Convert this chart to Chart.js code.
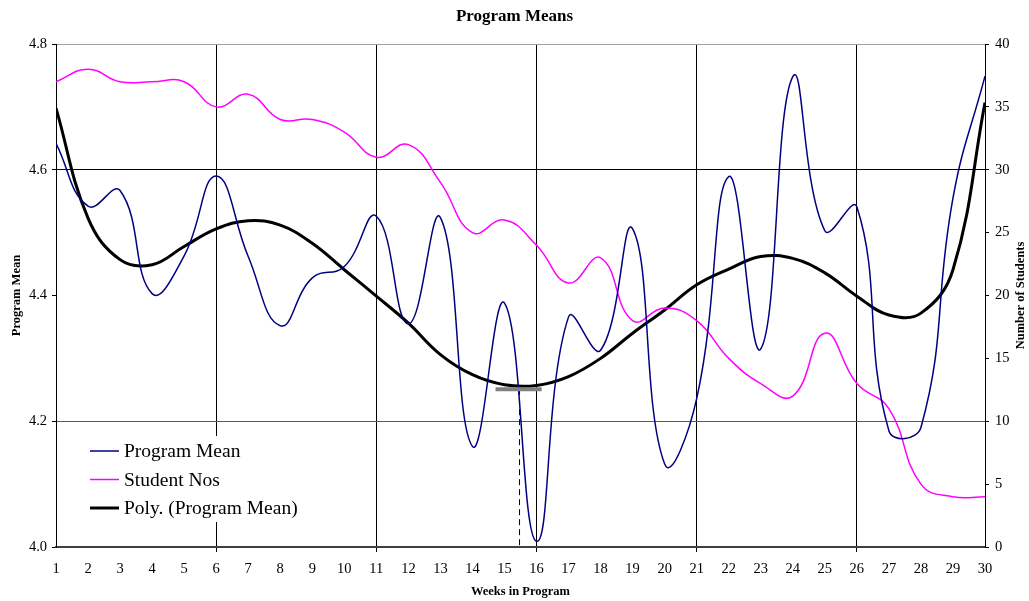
<!DOCTYPE html>
<html>
<head>
<meta charset="utf-8">
<script src="https://cdn.jsdelivr.net/npm/chart.js@4"></script>
<style>
  html, body { margin: 0; padding: 0; background: #fff; }
  #wrap { width: 1029px; height: 601px; }
</style>
</head>
<body>
<div id="wrap"><canvas id="meansChart"></canvas></div>
<script>
const weeks = [1, 2, 3, 4, 5, 6, 7, 8, 9, 10, 11, 12, 13, 14, 15, 16, 17, 18, 19, 20, 21, 22, 23, 24, 25, 26, 27, 28, 29, 30];
const programMean = [4.642, 4.542, 4.567, 4.403, 4.463, 4.590, 4.462, 4.352, 4.428, 4.446, 4.526, 4.355, 4.524, 4.160, 4.388, 4.009, 4.366, 4.313, 4.506, 4.132, 4.236, 4.589, 4.315, 4.748, 4.503, 4.541, 4.185, 4.190, 4.555, 4.749];
const studentNos = [37, 38, 37, 37, 37, 35, 36, 34, 34, 33, 31, 32, 29, 25, 26, 24, 21, 23, 18, 19, 18, 15, 13, 12, 17, 13, 11, 5, 4, 4];
const polyTrend = [4.698, 4.523, 4.457, 4.449, 4.478, 4.506, 4.519, 4.512, 4.483, 4.441, 4.399, 4.356, 4.306, 4.274, 4.258, 4.257, 4.271, 4.300, 4.340, 4.377, 4.417, 4.442, 4.462, 4.459, 4.436, 4.399, 4.369, 4.372, 4.441, 4.707];
// minimum of the trend line, marked with a grey bar and a dashed drop line
const minBarX = [14.72, 16.16];
const minBarY = [4.251, 4.251];
const dropX = [15.47, 15.47];
const dropY = [4.251, 4.0];

const serif = "'Liberation Serif', 'Times New Roman', serif";
const majorWeeks = [6, 11, 16, 21, 26];

function pts(xs, ys) {
    return xs.map((x, i) => ({ x: x, y: ys[i] }));
}

function leftGrid(ctx) {
    const v = ctx.tick ? ctx.tick.value : null;
    if (v === null) return 'rgba(0,0,0,0)';
    if (Math.abs(v - 4.6) < 1e-6) return '#000000';
    if (Math.abs(v - 4.2) < 1e-6) return '#5050a8';
    if (Math.abs(v - 4.8) < 1e-6) return '#a0a0a0';
    return 'rgba(0,0,0,0)';
}

function weekGrid(ctx) {
    const v = ctx.tick ? ctx.tick.value : null;
    return majorWeeks.includes(v) ? '#000000' : 'rgba(0,0,0,0)';
}

// legend inside the plot + right axis title reading bottom to top
const extras = {
    id: 'extras',
    afterDatasetsDraw(chart) {
        const c = chart.ctx;
        const area = chart.chartArea;
        c.save();
        c.fillStyle = '#ffffff';
        c.fillRect(85, 436, 225, 86);
        const items = chart.data.datasets.slice(0, 3);
        c.font = '19.5px ' + serif;
        c.textBaseline = 'middle';
        c.textAlign = 'left';
        items.forEach((ds, i) => {
            const y = 451 + i * 28.5;
            c.strokeStyle = ds.borderColor;
            c.lineWidth = ds.borderWidth;
            c.beginPath();
            c.moveTo(90, y);
            c.lineTo(119, y);
            c.stroke();
            c.fillStyle = '#000';
            c.fillText(ds.label, 124, y + 1);
        });
        c.translate(1021, (area.top + area.bottom) / 2);
        c.rotate(-Math.PI / 2);
        c.font = 'bold 12.5px ' + serif;
        c.textAlign = 'center';
        c.fillText('Number of Students', 0, 0);
        c.restore();
    }
};

const ctx = document.getElementById('meansChart').getContext('2d');

const meansChart = new Chart(ctx, {
    type: 'line',
    data: {
        datasets: [{
            label: 'Program Mean',
            data: pts(weeks, programMean),
            yAxisID: 'y',
            borderColor: '#000080',
            borderWidth: 1.5,
            tension: 0.45,
            pointRadius: 0
        }, {
            label: 'Student Nos',
            data: pts(weeks, studentNos),
            yAxisID: 'y1',
            borderColor: '#ff00ff',
            borderWidth: 1.5,
            tension: 0.45,
            pointRadius: 0
        }, {
            label: 'Poly. (Program Mean)',
            data: pts(weeks, polyTrend),
            yAxisID: 'y',
            borderColor: '#000000',
            borderWidth: 3,
            tension: 0.4,
            pointRadius: 0
        }, {
            label: 'min',
            data: pts(minBarX, minBarY),
            yAxisID: 'y',
            borderColor: '#808080',
            borderWidth: 4,
            pointRadius: 0,
            order: -1
        }, {
            label: 'drop',
            data: pts(dropX, dropY),
            yAxisID: 'y',
            borderColor: '#000000',
            borderWidth: 1,
            borderDash: [6, 4],
            pointRadius: 0
        }]
    },
    options: {
        responsive: true,
        maintainAspectRatio: false,
        animation: false,
        layout: { padding: 0 },
        plugins: {
            legend: { display: false },
            tooltip: { enabled: false },
            title: {
                display: true,
                text: 'Program Means',
                color: '#000',
                font: { family: serif, size: 17, weight: 'bold' },
                padding: { top: 6, bottom: 17.6 }
            }
        },
        scales: {
            x: {
                type: 'linear',
                min: 1,
                max: 30,
                afterFit: s => { s.height = 54; },
                ticks: { stepSize: 1, color: '#000', padding: 8, font: { family: serif, size: 14.5 } },
                grid: { color: weekGrid, tickColor: weekGrid, tickLength: 5, lineWidth: 1 },
                border: { color: '#404040', width: 2 },
                title: {
                    display: true,
                    text: 'Weeks in Program',
                    color: '#000',
                    font: { family: serif, size: 12.5, weight: 'bold' },
                    padding: { top: 0, bottom: 2 }
                }
            },
            y: {
                position: 'left',
                min: 4.0,
                max: 4.8,
                afterFit: s => { s.width = 56; },
                ticks: {
                    stepSize: 0.2,
                    color: '#000',
                    padding: 5,
                    font: { family: serif, size: 14.5 },
                    callback: v => v.toFixed(1)
                },
                grid: { color: leftGrid, tickColor: '#000', tickLength: 4, lineWidth: 1 },
                border: { color: '#000', width: 1 },
                title: {
                    display: true,
                    text: 'Program Mean',
                    color: '#000',
                    font: { family: serif, size: 12.5, weight: 'bold' },
                    padding: { top: 9, bottom: 0 }
                }
            },
            y1: {
                position: 'right',
                min: 0,
                max: 40,
                afterFit: s => { s.width = 44; },
                ticks: { stepSize: 5, color: '#000', padding: 6, font: { family: serif, size: 14.5 } },
                grid: { drawOnChartArea: false, tickColor: '#000', tickLength: 4 },
                border: { color: '#000', width: 1 }
            }
        }
    },
    plugins: [extras]
});
</script>
</body>
</html>
